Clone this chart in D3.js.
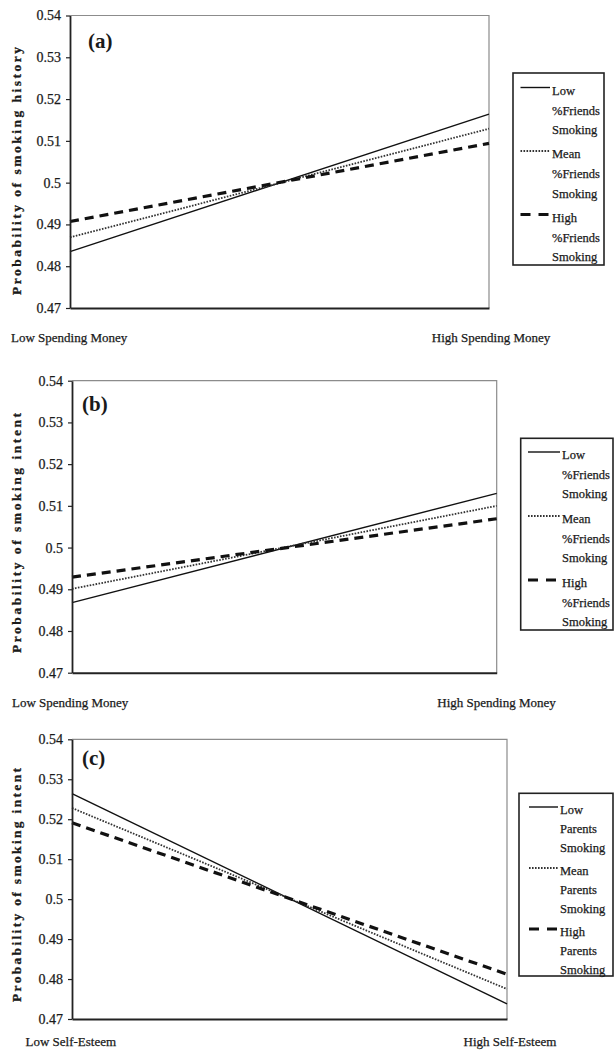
<!DOCTYPE html>
<html>
<head>
<meta charset="utf-8">
<script src="https://cdn.jsdelivr.net/npm/d3@7/dist/d3.min.js"></script>
<style>
  html, body { margin: 0; padding: 0; background: #fff; }
  svg { display: block; }
  text { font-family: "Liberation Serif", "DejaVu Serif", serif; fill: #1a1a1a; }
  .soft { stroke: #1a1a1a; stroke-width: 0.25px; }
</style>
</head>
<body>
<svg id="chart" width="614" height="1056"></svg>
<script>
// ---------- DATA ----------
const xCategories = ["Low", "High"];
const yTicks = [0.47, 0.48, 0.49, 0.50, 0.51, 0.52, 0.53, 0.54];
const yTickLabels = ["0.47", "0.48", "0.49", "0.5", "0.51", "0.52", "0.53", "0.54"];
const seriesKeys = ["Low", "Mean", "High"];

// Panel (a): probability of smoking history vs spending money
const aLow  = [0.4835, 0.5164];
const aMean = [0.4869, 0.5129];
const aHigh = [0.4907, 0.5094];
const aXLabels = ["Low Spending Money", "High Spending Money"];
const aLegend = [["Low", "%Friends", "Smoking"], ["Mean", "%Friends", "Smoking"], ["High", "%Friends", "Smoking"]];

// Panel (b): probability of smoking intent vs spending money
const bLow  = [0.4868, 0.5130];
const bMean = [0.4901, 0.5100];
const bHigh = [0.4929, 0.5069];
const bXLabels = ["Low Spending Money", "High Spending Money"];
const bLegend = [["Low", "%Friends", "Smoking"], ["Mean", "%Friends", "Smoking"], ["High", "%Friends", "Smoking"]];

// Panel (c): probability of smoking intent vs self-esteem
const cLow  = [0.5264, 0.4738];
const cMean = [0.5228, 0.4775];
const cHigh = [0.5191, 0.4812];
const cXLabels = ["Low Self-Esteem", "High Self-Esteem"];
const cLegend = [["Low", "Parents", "Smoking"], ["Mean", "Parents", "Smoking"], ["High", "Parents", "Smoking"]];

// ---------- LAYOUT ----------
const panels = [
  { tag: "(a)", yTitle: "Probability of smoking history", titleLen: 248, titleY: 171,
    series: [aLow, aMean, aHigh], xLabels: aXLabels, legend: aLegend,
    left: 70, top: 15.5, right: 489, bottom: 308,
    tagX: 88, tagY: 48,
    xLowX: 11, xHighX: 491, xLabY: 337,
    lg: { x0: 513, y0: 73, x1: 604, y1: 265, sx0: 520.5, sx1: 550, tx: 552, ty: 90.5, step: 63.5, line: 19.7 } },
  { tag: "(b)", yTitle: "Probability of smoking intent", titleLen: 240, titleY: 533,
    series: [bLow, bMean, bHigh], xLabels: bXLabels, legend: bLegend,
    left: 72, top: 380.7, right: 496.7, bottom: 672.7,
    tagX: 82, tagY: 411,
    xLowX: 12, xHighX: 496.5, xLabY: 702,
    lg: { x0: 520.7, y0: 438.3, x1: 613, y1: 630, sx0: 528, sx1: 560, tx: 562, ty: 455, step: 64, line: 19.5 } },
  { tag: "(c)", yTitle: "Probability of smoking intent", titleLen: 234, titleY: 885,
    series: [cLow, cMean, cHigh], xLabels: cXLabels, legend: cLegend,
    left: 72, top: 739.3, right: 507, bottom: 1019,
    tagX: 82, tagY: 765,
    xLowX: 25.5, xHighX: 510, xLabY: 1041,
    lg: { x0: 519, y0: 793.3, x1: 613, y1: 976, sx0: 529, sx1: 558, tx: 560, ty: 810, step: 61, line: 19 } }
];

const styles = {
  Low:  { stroke: "#111", width: 1.4, dash: null, legendDash: null },
  Mean: { stroke: "#333", width: 1.8, dash: "1.6,1.4", legendDash: "1.6,1.4" },
  High: { stroke: "#111", width: 3.2, dash: "9,6", legendDash: "10,8" }
};

const svg = d3.select("#chart");

panels.forEach(p => {
  const g = svg.append("g");
  const x = d3.scalePoint().domain(xCategories).range([p.left, p.right]).padding(0);
  const y = d3.scaleLinear().domain([0.47, 0.54]).range([p.bottom, p.top]);

  // top / right border (gray)
  g.append("path")
    .attr("d", `M${p.left},${p.top}H${p.right}V${p.bottom}`)
    .attr("fill", "none").attr("stroke", "#8c8c8c").attr("stroke-width", 1.2);

  // series lines
  const line = d3.line().x((d, i) => x(xCategories[i])).y(d => y(d));
  p.series.forEach((vals, si) => {
    const st = styles[seriesKeys[si]];
    g.append("path")
      .datum(vals)
      .attr("d", line)
      .attr("fill", "none")
      .attr("stroke", st.stroke)
      .attr("stroke-width", st.width)
      .attr("stroke-dasharray", st.dash);
  });

  // y axis
  const yAxis = d3.axisLeft(y)
    .tickValues(yTicks)
    .tickFormat((d, i) => yTickLabels[i])
    .tickSizeInner(4).tickSizeOuter(0).tickPadding(5);
  const ya = g.append("g").attr("transform", `translate(${p.left},0)`).call(yAxis);
  ya.select(".domain").attr("stroke", "#222").attr("stroke-width", 1.8);
  ya.selectAll(".tick line").attr("stroke", "#222").attr("stroke-width", 1.2);
  ya.selectAll(".tick text")
    .attr("class", "soft")
    .attr("font-family", "Liberation Serif, serif")
    .attr("font-size", 14).attr("fill", "#1a1a1a");

  // x axis (line only)
  const xAxis = d3.axisBottom(x).tickSize(0).tickFormat("");
  const xa = g.append("g").attr("transform", `translate(0,${p.bottom})`).call(xAxis);
  xa.select(".domain").attr("stroke", "#222").attr("stroke-width", 2);

  // x category labels
  g.append("text").text(p.xLabels[0]).attr("class", "soft")
    .attr("x", p.xLowX).attr("y", p.xLabY).attr("dy", "0.35em")
    .attr("font-size", 13).attr("text-anchor", "start");
  g.append("text").text(p.xLabels[1]).attr("class", "soft")
    .attr("x", p.xHighX).attr("y", p.xLabY).attr("dy", "0.35em")
    .attr("font-size", 13).attr("text-anchor", "middle");

  // y title
  g.append("text").text(p.yTitle)
    .attr("transform", `translate(21,${p.titleY}) rotate(-90)`)
    .attr("text-anchor", "middle")
    .attr("font-size", 13.5).attr("font-weight", "bold")
    .attr("stroke", "#1a1a1a").attr("stroke-width", 0.3)
    .attr("textLength", p.titleLen).attr("lengthAdjust", "spacing");

  // panel tag
  g.append("text").text(p.tag)
    .attr("x", p.tagX).attr("y", p.tagY)
    .attr("font-size", 21).attr("font-weight", "bold");

  // legend
  const L = p.lg;
  g.append("rect")
    .attr("x", L.x0).attr("y", L.y0)
    .attr("width", L.x1 - L.x0).attr("height", L.y1 - L.y0)
    .attr("fill", "#fff").attr("stroke", "#222").attr("stroke-width", 1.6);
  p.legend.forEach((lines, si) => {
    const st = styles[seriesKeys[si]];
    const cy = L.ty + si * L.step;
    g.append("line")
      .attr("x1", L.sx0).attr("x2", L.sx1)
      .attr("y1", cy - 3).attr("y2", cy - 3)
      .attr("stroke", st.stroke)
      .attr("stroke-width", st.width)
      .attr("stroke-dasharray", st.legendDash);
    lines.forEach((t, li) => {
      g.append("text").text(t).attr("class", "soft")
        .attr("x", L.tx).attr("y", cy + li * L.line).attr("dy", "0.35em")
        .attr("font-size", 12.5);
    });
  });
});
</script>
</body>
</html>
